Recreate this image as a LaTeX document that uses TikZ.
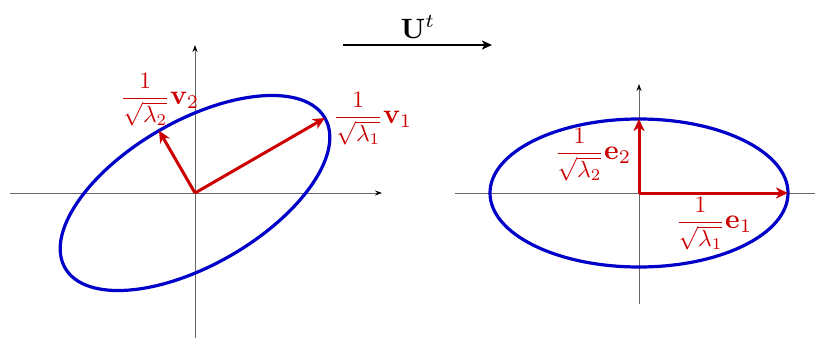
\documentclass[tikz,border=0pt]{standalone}
\usepackage{graphicx}
\usepackage{amsmath}
\usetikzlibrary{arrows.meta}
\definecolor{ellblue}{RGB}{0,0,200}
\definecolor{vecred}{RGB}{204,0,0}
\newcommand{\bigtxt}[1]{\scalebox{2.35}{#1}}
\newcommand{\hugetxt}[1]{\scalebox{2.8}{#1}}
\newcommand{\bvec}[1]{\scalebox{1.18}{$#1$}}
\tikzset{
  axis/.style={draw=black!60, line width=1pt, -{Stealth[length=7pt,width=5pt,color=black]}},
  axisnoarrow/.style={draw=black!60, line width=1pt},
  ell/.style={draw=ellblue, line width=3.2pt},
  vec/.style={draw=vecred, line width=3pt, -{Stealth[length=12pt,width=11pt,inset=3.5pt]}},
  lab/.style={text=vecred, inner sep=0pt},
  maplab/.style={inner sep=0pt},
  maparrow/.style={draw=black, line width=1.8pt, -{Stealth[length=10pt,width=9pt,inset=2.5pt]}}
}
\begin{document}
\begin{tikzpicture}[x=1pt,y=-1pt]
\useasboundingbox (0,0) rectangle (815,340);
% left plot
\coordinate (O1) at (195,193);
\coordinate (L1) at (10,193);
\coordinate (R1) at (382,193);
\coordinate (B1) at (195,338);
\coordinate (T1) at (195,45);
\draw[axis] (L1) -- (R1);
\draw[axis] (B1) -- (T1);
\draw[ell, rotate around={30:(O1)}] (O1) ellipse [x radius=150pt, y radius=72pt];
\coordinate (V1) at (325,118);
\coordinate (V2) at (159,130.6);
\draw[vec] (O1) -- (V1);
\draw[vec] (O1) -- (V2);
\node[lab] (lv1) at (373,119) {\bigtxt{$\dfrac{1}{\sqrt{\lambda_1}}\bvec{\mathbf{v}_1}$}};
\node[lab] (lv2) at (160,100) {\bigtxt{$\dfrac{1}{\sqrt{\lambda_2}}\bvec{\mathbf{v}_2}$}};
% map arrow
\coordinate (M1) at (343,45);
\coordinate (M2) at (492,45);
\draw[maparrow] (M1) -- (M2);
\node[maplab] (U) at (418,27) {\hugetxt{$\mathbf{U}^t$}};
% right plot
\coordinate (O2) at (639,193);
\coordinate (L2) at (455,193);
\coordinate (R2) at (815,193);
\coordinate (B2) at (639,304);
\coordinate (T2) at (639,84);
\draw[axisnoarrow] (L2) -- (R2);
\draw[axis] (B2) -- (T2);
\draw[ell] (O2) ellipse [x radius=149pt, y radius=74pt];
\coordinate (E1) at (788,193);
\coordinate (E2) at (639,119);
\draw[vec] (O2) -- (E1);
\draw[vec] (O2) -- (E2);
\node[lab] (le1) at (714,224) {\bigtxt{$\dfrac{1}{\sqrt{\lambda_1}}\bvec{\mathbf{e}_1}$}};
\node[lab] (le2) at (593,155) {\bigtxt{$\dfrac{1}{\sqrt{\lambda_2}}\bvec{\mathbf{e}_2}$}};
\end{tikzpicture}
\end{document}
